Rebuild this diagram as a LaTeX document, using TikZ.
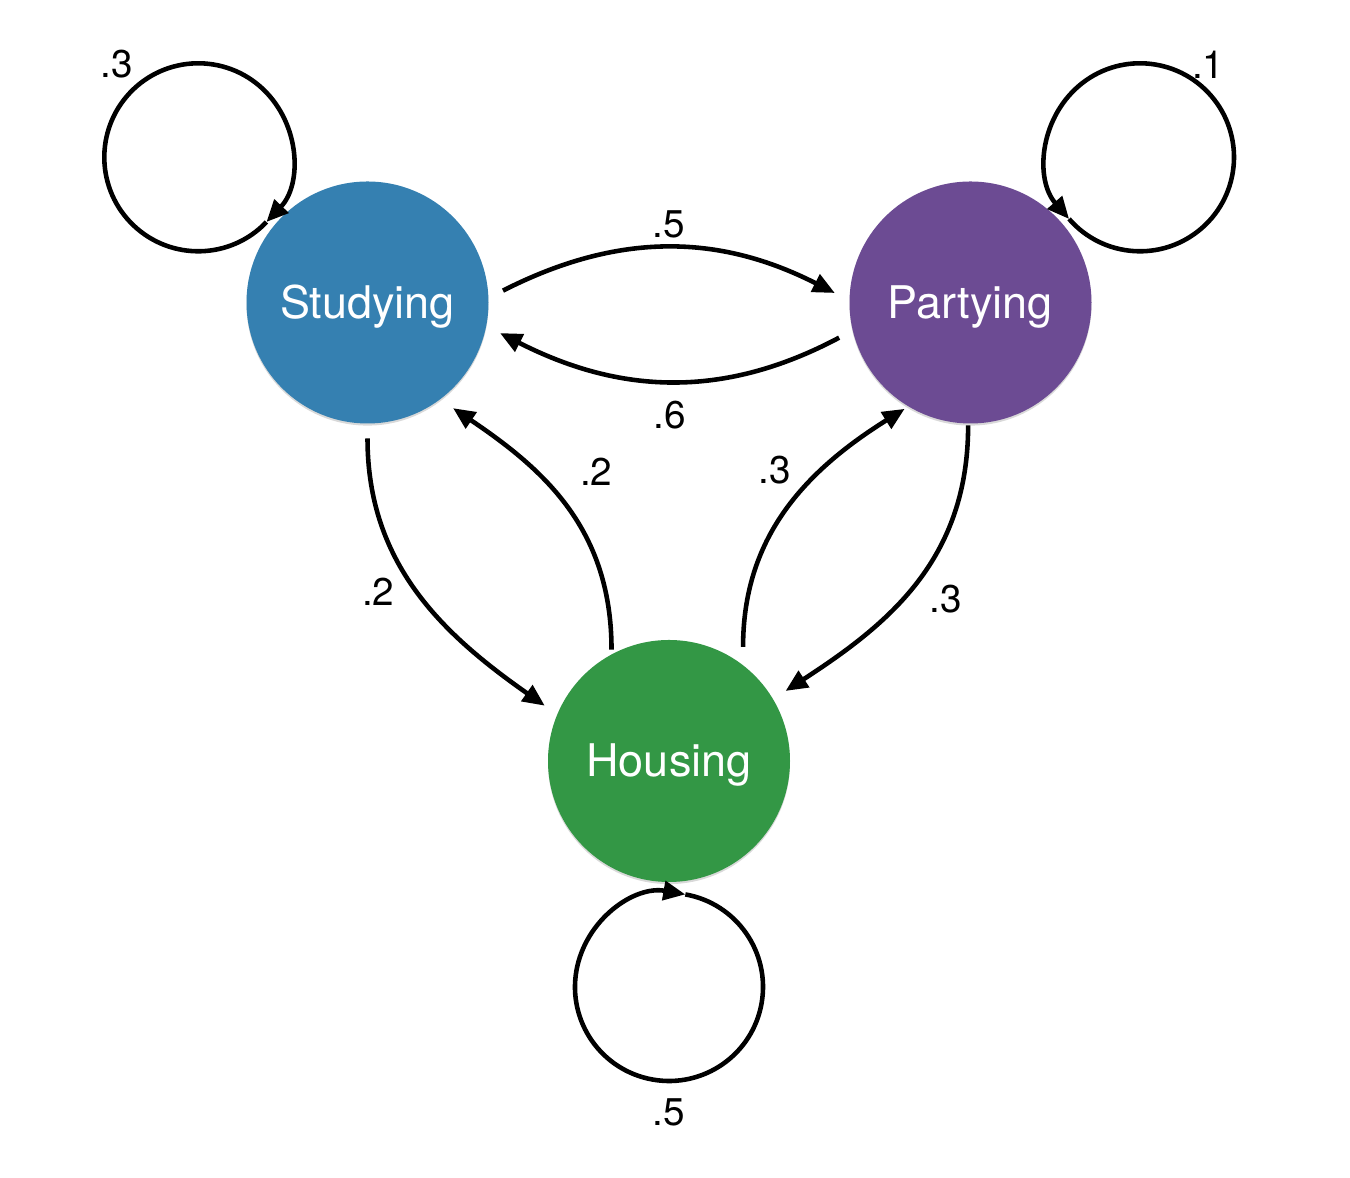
\documentclass[tikz,border=0pt]{standalone}
\usepackage{fontspec}
\setmainfont{TeX Gyre Heros}
\usetikzlibrary{arrows.meta,shadows}
\definecolor{studyblue}{RGB}{53,128,177}
\definecolor{partypurple}{RGB}{108,75,147}
\definecolor{housegreen}{RGB}{51,151,69}
\tikzset{
  state/.style={circle, minimum size=2.42cm, inner sep=0pt, outer sep=0.15cm,
    text=white, font=\fontsize{12.8}{15}\selectfont, text height=11.9pt, text depth=2.8pt,
    drop shadow={shadow xshift=0pt, shadow yshift=-0.6pt, opacity=.3}},
  trans/.style={line width=1.3pt, -{Triangle[length=0.22cm,width=0.19cm]}},
  prob/.style={font=\fontsize{11}{13}\selectfont, inner sep=1pt},
}

\begin{document}
\begin{tikzpicture}
            \useasboundingbox (0,0) rectangle (13.5,11.78);

            \node[state, fill=studyblue] (s) at (3.675,8.755) {Studying};
            \node[state, fill=partypurple] (p) at (9.705,8.755) {Partying};
            \node[state, fill=housegreen] (h) at (6.69,4.17) {Housing};

            \coordinate (sloop) at (1.983,10.207);
            \coordinate (ploop) at (11.40,10.207);
            \coordinate (hloop) at (6.69,1.91);

            % self loops
            \draw[trans] ([shift={(316.5:0.94)}]sloop) arc[start angle=316.5, end angle=-43.5, radius=0.94];
            \draw[trans] ([shift={(-139:0.94)}]ploop) arc[start angle=-139, end angle=221, radius=0.94];
            \draw[trans] ([shift={(80:0.94)}]hloop) arc[start angle=440, end angle=80, radius=0.94];

            \node[prob] (lss) at ([shift={(131:1.24)}]sloop) {.3};
            \node[prob] (lpp) at ([shift={(53.6:1.15)}]ploop) {.1};
            \node[prob] (lhh) at ([shift={(270:1.25)}]hloop) {.5};

            % transitions between states
            \draw[trans] (s.5) to[out=27,in=153] node[prob,midway,above=1pt] (lsp) {.5} (p.176);
            \draw[trans] (p.195) to[out=208,in=333] node[prob,midway,below=4pt] (lps) {.6} (s.347);
            \draw[trans] (s.270) to[out=270,in=145] node[prob,pos=.5,left=5pt] (lsh) {.2} (h.156);
            \draw[trans, shorten <=-0.12cm] (h.115) to[out=90,in=326] node[prob,pos=.66,right=11pt] (lhs) {.2} (s.309);
            \draw[trans, shorten >=-0.12cm] (h.57) to[out=90,in=212] node[prob,pos=.7,left=7pt] (lhp) {.3} (p.236);
            \draw[trans, shorten <=-0.13cm] (p.269) to[out=270,in=33] node[prob,pos=.56,right=6pt] (lph) {.3} (h.31);
        \end{tikzpicture}
\end{document}
